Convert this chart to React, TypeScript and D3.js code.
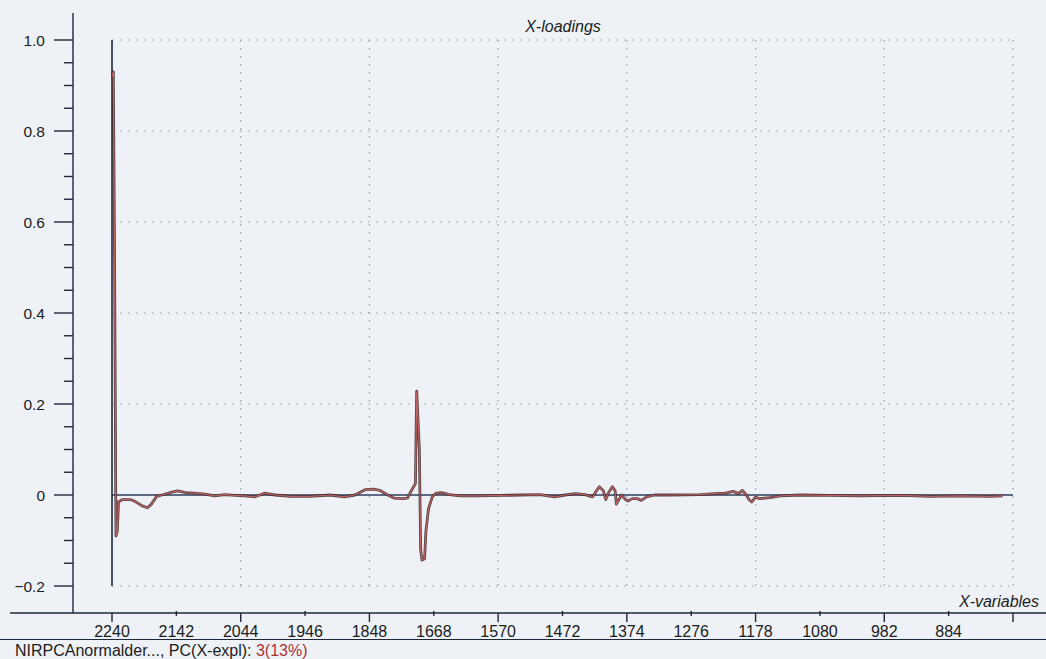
import React from "react";
import * as d3 from "d3";

// X-variable tick labels (one every 49 variables)
const tickLabels = ["2240", "2142", "2044", "1946", "1848", "1668", "1570", "1472", "1374", "1276", "1178", "1080", "982", "884", ""];
const varsPerTick = 49;

// Y-axis tick values
const yMajor = [-0.2, 0, 0.2, 0.4, 0.6, 0.8, 1.0];
const yGrid = [-0.2, 0.2, 0.4, 0.6, 0.8, 1.0];

// PC3 loadings: variable index and loading value
const varIndex = [
  0, 1, 2, 3, 4, 5, 8, 14, 18, 23, 27, 30, 34, 38, 44, 50, 56, 63, 71, 78, 86, 94, 101, 109, 116, 124, 136, 151, 166, 177, 185,
  193, 199, 204, 210, 215, 221, 225, 228, 231, 232, 234, 235, 236, 238, 239, 241, 244, 247, 251, 257, 265, 280, 295, 311, 326,
  337, 345, 353, 360, 366, 369, 371, 374, 376, 378, 381, 383, 384, 387, 388, 391, 393, 396, 400, 403, 407, 413, 425, 448, 459,
  467, 473, 477, 480, 483, 485, 487, 490, 493, 501, 509, 524, 547, 569, 600, 623, 646, 668, 678,
];
const loading = [
  0.92, 0.93, 0.5, -0.09, -0.08, -0.015, -0.01, -0.01, -0.015, -0.024, -0.028, -0.02, -0.003, 0.0, 0.005, 0.009, 0.005, 0.004,
  0.002, -0.002, 0.001, -0.001, -0.002, -0.004, 0.004, 0.0, -0.003, -0.003, 0.0, -0.004, 0.0,
  0.012, 0.013, 0.01, 0.0, -0.007, -0.008, -0.007, 0.01, 0.025, 0.228, 0.1, -0.12, -0.143, -0.14, -0.08, -0.03, -0.003, 0.004,
  0.005, 0.001, -0.002, -0.002, -0.001, 0.0, 0.001,
  -0.004, 0.0, 0.003, 0.001, -0.004, 0.01, 0.018, 0.01, -0.01, 0.005, 0.018, 0.01, -0.02, -0.005, 0.0, -0.01, -0.013, -0.008,
  -0.008, -0.012, -0.004, 0.0, 0.0, 0.001, 0.003,
  0.004, 0.008, 0.003, 0.01, 0.0, -0.01, -0.015, -0.005, -0.008, -0.006, -0.002, 0.0, -0.001, -0.002, -0.001, -0.003, -0.002,
  -0.003, -0.002,
];

const W = 1046;
const H = 659;
const FONT = "'Liberation Sans', Arial, sans-serif";
const BG = "#eef2f7";
const GRID = "#8e99a8";
const DARK = "#1e2838";
const TEXT = "#1c1c1c";

export default function App() {
  const x = d3.scaleLinear().domain([0, varsPerTick * (tickLabels.length - 1)]).range([112, 1013]);
  const y = d3.scaleLinear().domain([-0.2, 1.0]).range([586, 40]);

  const pts: [number, number][] = varIndex.map((v, i) => [v, loading[i]]);
  const line = d3
    .line<[number, number]>()
    .x((d) => x(d[0]))
    .y((d) => y(d[1]));
  const pathD = line(pts) || "";

  const yMinor = d3.range(-0.2, 1.0001, 0.05).map((v) => +v.toFixed(2));
  const xTicks = tickLabels.map((_, i) => i * varsPerTick);

  const axisX = 73;
  const axisY = 613;

  return (
    <svg
      width={W}
      height={H}
      style={{ position: "absolute", left: 0, top: 0, background: BG }}
      fontFamily={FONT}
    >
      <rect x={0} y={0} width={W} height={H} fill={BG} />

      {/* dotted grid */}
      {yGrid.map((v) => (
        <line key={"hg" + v} x1={x(0)} x2={x(xTicks[xTicks.length - 1])} y1={y(v)} y2={y(v)} stroke={GRID} strokeWidth={1.2} strokeDasharray="1.5,6.5" />
      ))}
      {xTicks
        .filter((_, i) => i % 2 === 0 && i > 0)
        .map((t) => (
          <line key={"vg" + t} x1={x(t)} x2={x(t)} y1={y(1.0)} y2={y(-0.2)} stroke={GRID} strokeWidth={1.2} strokeDasharray="1.5,6.5" />
        ))}

      {/* left frame and zero reference */}
      <line x1={x(0)} x2={x(0)} y1={y(1.0)} y2={y(-0.2)} stroke={DARK} strokeWidth={1.6} />
      <line x1={x(0)} x2={x(xTicks[xTicks.length - 1])} y1={y(0)} y2={y(0)} stroke="#2b3d5c" strokeWidth={1.3} />

      {/* loading curve */}
      <path d={pathD} fill="none" stroke="#3a2424" strokeWidth={2.8} strokeLinejoin="round" opacity={0.85} />
      <path d={pathD} fill="none" stroke="#c06262" strokeWidth={1.2} strokeLinejoin="round" />

      {/* y axis */}
      <line x1={axisX} x2={axisX} y1={13} y2={axisY} stroke={DARK} strokeWidth={1.4} />
      {yMinor.map((v) => {
        const major = yMajor.some((m) => Math.abs(m - v) < 1e-6);
        return <line key={"yt" + v} x1={major ? 54 : 64} x2={axisX} y1={y(v)} y2={y(v)} stroke={DARK} strokeWidth={1.4} />;
      })}
      {yMajor.map((v) => (
        <text key={"yl" + v} x={45} y={y(v)} dy="0.36em" textAnchor="end" fontSize={15.5} fill={TEXT}>
          {v === 0 ? "0" : d3.format(".1f")(v)}
        </text>
      ))}

      {/* x axis */}
      <line x1={10} x2={W} y1={axisY} y2={axisY} stroke={DARK} strokeWidth={1.4} />
      {xTicks.map((t, i) => (
        <line key={"xt" + t} x1={x(t)} x2={x(t)} y1={i % 2 === 0 ? axisY : axisY - 2} y2={i % 2 === 0 ? axisY + 9 : axisY + 3} stroke={DARK} strokeWidth={1.4} />
      ))}
      {tickLabels.map((l, i) => (
        <text key={"xl" + i} x={x(xTicks[i])} y={637} textAnchor="middle" fontSize={16} fill={TEXT}>
          {l}
        </text>
      ))}
      <line x1={0} x2={W} y1={639.5} y2={639.5} stroke={DARK} strokeWidth={1.2} />

      {/* titles */}
      <text x={563} y={32} textAnchor="middle" fontSize={16} fontStyle="italic" fill={TEXT}>
        X-loadings
      </text>
      <text x={1039} y={607} textAnchor="end" fontSize={16} fontStyle="italic" fill={TEXT}>
        X-variables
      </text>

      {/* status line */}
      <text x={15} y={656} fontSize={16} fill={TEXT}>
        NIRPCAnormalder..., PC(X-expl): <tspan fill="#a83232">3(13%)</tspan>
      </text>
    </svg>
  );
}
